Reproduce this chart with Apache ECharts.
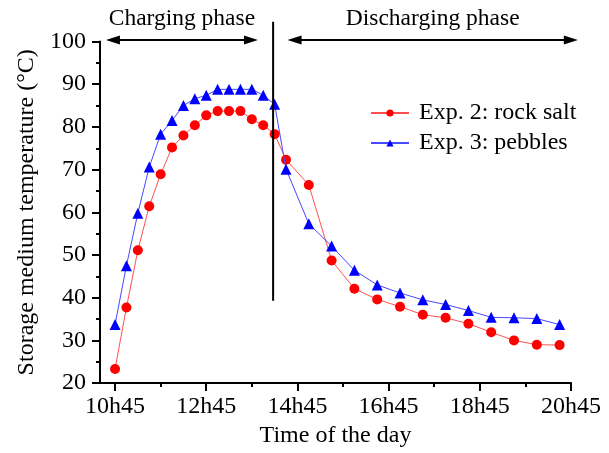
<!DOCTYPE html>
<html>
<head>
<meta charset="utf-8">
<script src="https://cdn.jsdelivr.net/npm/echarts@6/dist/echarts.min.js"></script>
<style>
  html, body { margin: 0; padding: 0; background: #fff; }
  #chart { width: 609px; height: 453px; }
</style>
</head>
<body>
<div id="chart"></div>
<script>
// Sampling times: every 15 min during charging, every 30 min afterwards
const sampleTimes = [
  '10h45', '11h00', '11h15', '11h30', '11h45', '12h00', '12h15', '12h30',
  '12h45', '13h00', '13h15', '13h30', '13h45', '14h00', '14h15', '14h30',
  '15h00', '15h30', '16h00', '16h30', '17h00', '17h30', '18h00', '18h30',
  '19h00', '19h30', '20h00', '20h30'
];

// Storage medium temperature (°C)
const rockSalt = [
  23.3, 37.7, 51.1, 61.4, 68.9, 75.2, 78.0, 80.4,
  82.7, 83.7, 83.7, 83.7, 81.8, 80.4, 78.3, 72.3,
  66.4, 48.7, 42.1, 39.6, 37.9, 36.0, 35.3, 33.9,
  31.9, 30.0, 29.0, 28.9
];
const pebbles = [
  33.7, 47.5, 59.8, 70.6, 78.3, 81.5, 85.0, 86.6,
  87.4, 88.8, 88.8, 88.8, 88.8, 87.4, 85.3, 70.1,
  57.3, 52.1, 46.4, 43.0, 41.1, 39.5, 38.4, 37.0,
  35.4, 35.3, 35.1, 33.7
];

const xLabelTimes = ['10h45', '12h45', '14h45', '16h45', '18h45', '20h45'];
const xMinorTimes = ['11h45', '13h45', '15h45', '17h45', '19h45'];

const seriesNames = ['Exp. 2: rock salt', 'Exp. 3: pebbles'];
const phaseNames = ['Charging phase', 'Discharging phase'];

// end of charging (phase boundary) and the spans of the two phase arrows
const boundaryTime = '14h13';
const chargingSpan = ['10h33', '13h53'];
const dischargingSpan = ['14h32', '20h54'];

function toHours(s) {
  const parts = s.split('h');
  return Number(parts[0]) + Number(parts[1]) / 60;
}
function toLabel(v) {
  const h = Math.floor(v + 1e-6);
  const m = Math.round((v - h) * 60);
  return h + 'h' + String(m).padStart(2, '0');
}

const FONT = 'Liberation Serif';
const chart = echarts.init(document.getElementById('chart'), null, { renderer: 'canvas' });

const xMin = 10.42, xMax = toHours('20h45');

const baseX = {
  type: 'value',
  min: xMin,
  max: xMax,
  position: 'bottom',
  splitLine: { show: false }
};

chart.setOption({
  animation: false,
  backgroundColor: '#fff',
  grid: { left: 100, right: 38, top: 41.5, bottom: 69, containLabel: false },
  legend: {
    orient: 'vertical',
    left: 365,
    top: 96,
    itemGap: 6,
    itemWidth: 38,
    itemHeight: 9,
    textStyle: { fontFamily: FONT, fontSize: 24, color: '#000', padding: [0, 0, 0, 5] },
    data: seriesNames
  },
  xAxis: [
    Object.assign({}, baseX, {
      name: 'Time of the day',
      nameLocation: 'middle',
      nameGap: 40,
      nameTextStyle: { fontFamily: FONT, fontSize: 24, color: '#000' },
      axisLine: { show: true, lineStyle: { color: '#000', width: 2 } },
      axisTick: {
        show: true, inside: false, length: 8,
        lineStyle: { color: '#000', width: 2 },
        customValues: xLabelTimes.map(toHours)
      },
      axisLabel: {
        show: true, margin: 12,
        fontFamily: FONT, fontSize: 24, color: '#000',
        customValues: xLabelTimes.map(toHours),
        formatter: v => toLabel(v)
      }
    }),
    Object.assign({}, baseX, {
      axisLine: { show: false },
      axisTick: {
        show: true, inside: false, length: 4,
        lineStyle: { color: '#000', width: 2 },
        customValues: xMinorTimes.map(toHours)
      },
      axisLabel: { show: false }
    })
  ],
  yAxis: {
    type: 'value',
    min: 20,
    max: 100,
    interval: 10,
    name: 'Storage medium temperature (°C)',
    nameLocation: 'middle',
    nameGap: 61,
    nameTextStyle: { fontFamily: FONT, fontSize: 24, color: '#000' },
    axisLine: { show: true, lineStyle: { color: '#000', width: 2 } },
    axisTick: { show: true, inside: false, length: 8, lineStyle: { color: '#000', width: 2 } },
    minorTick: { show: true, splitNumber: 2, length: 4, lineStyle: { color: '#000', width: 2 } },
    axisLabel: { margin: 14, fontFamily: FONT, fontSize: 24, color: '#000' },
    splitLine: { show: false }
  },
  series: [
    {
      name: seriesNames[0],
      type: 'line',
      data: sampleTimes.map((t, i) => [toHours(t), rockSalt[i]]),
      symbol: 'circle',
      symbolSize: 10,
      itemStyle: { color: '#ff0000' },
      lineStyle: { color: '#ff5050', width: 1 },
      z: 3
    },
    {
      name: seriesNames[1],
      type: 'line',
      data: sampleTimes.map((t, i) => [toHours(t), pebbles[i]]),
      symbol: 'triangle',
      symbolSize: 11,
      itemStyle: { color: '#0000ff' },
      lineStyle: { color: '#4848ff', width: 1 },
      z: 4
    }
  ]
});

// Phase boundary, phase arrows and their captions, placed through the axes' scales
function px(t, v) {
  return chart.convertToPixel({ xAxisIndex: 0, yAxisIndex: 0 }, [t, v]);
}
function arrow(t0, t1, v) {
  const a = px(t0, v), b = px(t1, v);
  const L = 14, W = 4.5;
  return [
    { type: 'line', shape: { x1: a[0] + 6, y1: a[1], x2: b[0] - 6, y2: b[1] },
      style: { stroke: '#000', lineWidth: 2 } },
    { type: 'polygon', shape: { points: [[a[0], a[1]], [a[0] + L, a[1] - W], [a[0] + L, a[1] + W]] },
      style: { fill: '#000' } },
    { type: 'polygon', shape: { points: [[b[0], b[1]], [b[0] - L, b[1] - W], [b[0] - L, b[1] + W]] },
      style: { fill: '#000' } }
  ];
}
function caption(text, t0, t1, v) {
  const a = px(t0, v), b = px(t1, v);
  return {
    type: 'text',
    x: (a[0] + b[0]) / 2, y: a[1],
    style: { text: text, fontFamily: FONT, fontSize: 23.5, fill: '#000', align: 'center', verticalAlign: 'middle' }
  };
}

const tBoundary = toHours(boundaryTime);
const boundaryTop = px(tBoundary, 104.6), boundaryBottom = px(tBoundary, 39.3);
const arrowLevel = 100.35;
const captionLevel = 105.3;

chart.setOption({
  graphic: [
    { type: 'line', shape: { x1: boundaryTop[0], y1: boundaryTop[1], x2: boundaryBottom[0], y2: boundaryBottom[1] },
      style: { stroke: '#000', lineWidth: 2 }, z: 10 }
  ].concat(
    arrow(toHours(chargingSpan[0]), toHours(chargingSpan[1]), arrowLevel),
    arrow(toHours(dischargingSpan[0]), toHours(dischargingSpan[1]), arrowLevel),
    [
      caption(phaseNames[0], toHours(chargingSpan[0]), toHours(chargingSpan[1]), captionLevel),
      caption(phaseNames[1], toHours(dischargingSpan[0]), toHours(dischargingSpan[1]), captionLevel)
    ]
  )
});
</script>
</body>
</html>
